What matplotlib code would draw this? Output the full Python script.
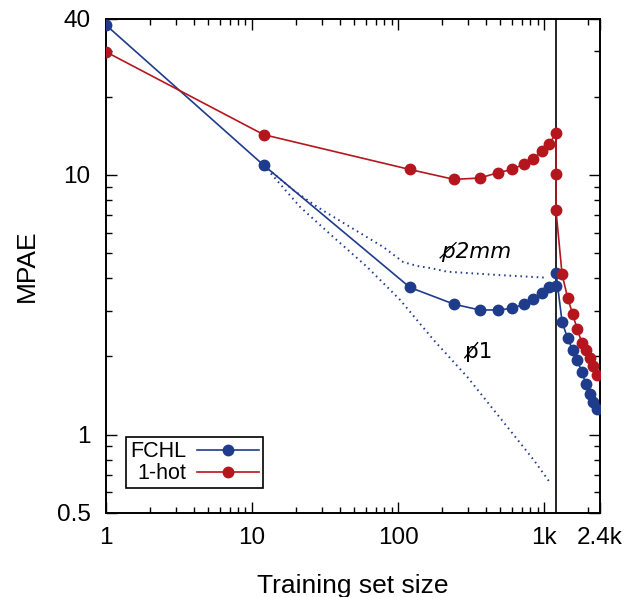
import matplotlib
matplotlib.use("Agg")
import matplotlib.pyplot as plt
from matplotlib.ticker import FixedLocator, NullFormatter

plt.rcParams['font.family'] = ['Liberation Sans', 'DejaVu Sans']

# ---- data ----
x_main = [1, 12, 120, 240, 360, 480, 600, 720, 840, 960, 1080]
x_tail = [1320, 1440, 1560, 1680, 1800, 1920, 2040, 2160, 2280]

fchl_x = x_main + [1200, 1200] + x_tail
fchl_y = [37.8, 10.9, 3.69, 3.18, 3.02, 3.02, 3.06, 3.18, 3.32, 3.50, 3.71,
          3.74, 4.20,
          2.72, 2.35, 2.12, 1.94, 1.74, 1.57, 1.43, 1.33, 1.25]

onehot_x = x_main + [1200, 1200, 1200] + x_tail
onehot_y = [29.8, 14.3, 10.5, 9.62, 9.73, 10.2, 10.5, 11.0, 11.55, 12.4, 13.2,
            14.5, 10.1, 7.31,
            4.15, 3.37, 2.91, 2.54, 2.26, 2.12, 1.97, 1.83, 1.69]

p2mm_x = [12, 19.1, 27.9, 46.9, 78.9, 108, 135, 166, 216, 474, 1040]
p2mm_y = [10.9, 8.75, 7.53, 6.30, 5.28, 4.62, 4.46, 4.38, 4.24, 4.12, 4.02]

p1_x = [12, 21.3, 35.9, 61.3, 103, 175, 296, 500, 845, 1081]
p1_y = [10.9, 7.53, 5.77, 4.42, 3.30, 2.31, 1.67, 1.155, 0.798, 0.658]

split_x = 1200

xticks = [1, 10, 100, 1000, 2400]
xticklabels = ['1', '10', '100', '1k', '2.4k']
yticks = [0.5, 1, 10, 40]
yticklabels = ['0.5', '1', '10', '40']

blue = '#1f3b8c'
red = '#b5161e'

fig = plt.figure(figsize=(6.39, 5.97), dpi=100)
ax = fig.add_axes([106/639, (597-512.7)/597, (600-106)/639, (512.7-18.7)/597])

ax.set_xscale('log')
ax.set_yscale('log')
ax.set_xlim(1, 2400)
ax.set_ylim(0.5, 40)

ax.plot(p2mm_x, p2mm_y, color=blue, lw=1.4, linestyle=(0, (0.8, 2.0)))
ax.plot(p1_x, p1_y, color=blue, lw=1.4, linestyle=(0, (0.8, 2.0)))

ax.axvline(split_x, color='black', lw=1.2, zorder=1)

ax.plot(fchl_x, fchl_y, color=blue, lw=1.2, marker='o', ms=7.5, label='FCHL', zorder=3)
ax.plot(onehot_x, onehot_y, color=red, lw=1.2, marker='o', ms=7.5, label='1-hot', zorder=3)

# labels on the dotted curves (p with a long solidus overlay)
ax.text(200, 5.05, 'p\u0338' + '2mm', fontsize=15.5, family='DejaVu Sans',
        style='italic', va='center', ha='left')
ax.text(285, 2.08, 'p\u0338' + '1', fontsize=15.5, family='DejaVu Sans',
        va='center', ha='left')

ax.xaxis.set_major_locator(FixedLocator(xticks))
ax.set_xticklabels(xticklabels)
xminor = [m * 10**d for d in range(0, 4) for m in range(2, 10) if m * 10**d < 2400]
ax.xaxis.set_minor_locator(FixedLocator(xminor))
ax.xaxis.set_minor_formatter(NullFormatter())

ax.yaxis.set_major_locator(FixedLocator(yticks))
ax.set_yticklabels(yticklabels)
yminor = [0.6, 0.7, 0.8, 0.9] + [m for m in range(2, 10)] + [20, 30]
ax.yaxis.set_minor_locator(FixedLocator(yminor))
ax.yaxis.set_minor_formatter(NullFormatter())

ax.tick_params(which='both', direction='in', top=True, right=True, labelsize=17.5, width=1.0, color='black')
ax.tick_params(which='major', length=7.7)
ax.tick_params(which='minor', length=4.2)
ax.tick_params(axis='x', which='major', pad=10)
ax.tick_params(axis='y', which='major', pad=11)

for s in ax.spines.values():
    s.set_linewidth(1.4)

ax.set_xlabel('Training set size', fontsize=19, labelpad=18)
ax.set_ylabel('MPAE', fontsize=19, labelpad=13)

leg = ax.legend(loc='lower left', bbox_to_anchor=(0.0405, 0.0494), borderaxespad=0,
                markerfirst=False, fancybox=False, edgecolor='black', framealpha=1,
                fontsize=15.5, handlelength=2.9, handletextpad=0.5, borderpad=0.18,
                labelspacing=0.05)
leg.get_frame().set_linewidth(1.2)

fig.savefig('out.png', dpi=100)
